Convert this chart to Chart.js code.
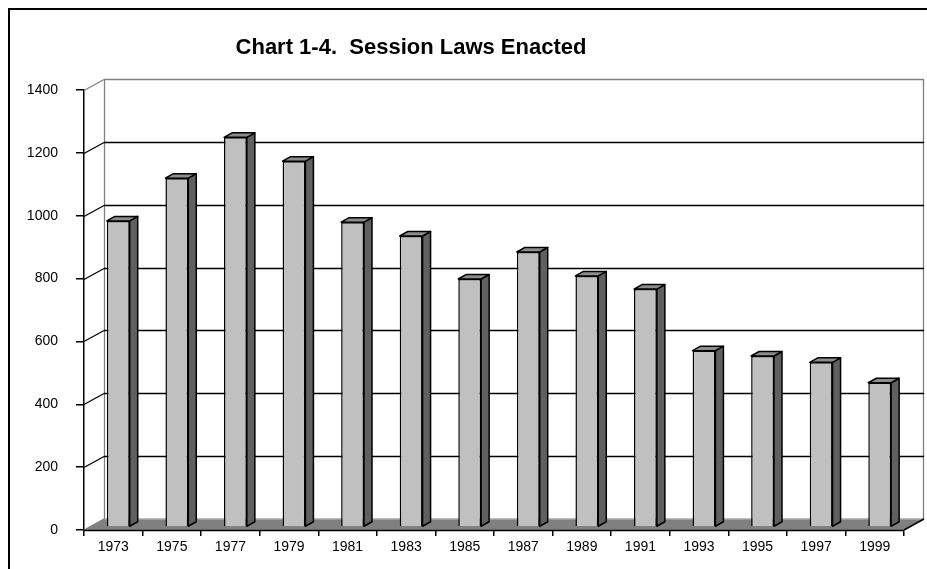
<!DOCTYPE html>
<html>
<head>
<meta charset="utf-8">
<title>Chart 1-4. Session Laws Enacted</title>
<script src="https://cdn.jsdelivr.net/npm/chart.js@4.4.1/dist/chart.umd.min.js"></script>
<style>
  html, body { margin: 0; padding: 0; background: #fff; }
  #wrap { width: 927px; height: 569px; position: relative; }
</style>
</head>
<body>
<div id="wrap"><canvas id="lawsChart"></canvas></div>
<script>
/* ── Data ── */
const years = ['1973', '1975', '1977', '1979', '1981', '1983', '1985',
               '1987', '1989', '1991', '1993', '1995', '1997', '1999'];
const lawsEnacted = [974, 1110, 1240, 1164, 970, 926, 789,
                     875, 799, 757, 561, 544, 524, 459];
const yTicks = [0, 200, 400, 600, 800, 1000, 1200, 1400];

/* ── Fake 3-D geometry (Excel style) ── */
const WALL_DX = 20, WALL_DY = -11;   // back wall offset from front axes
const BAR_DX = 5, BAR_DY = -3;       // bar front plane offset
const DEPTH_DX = 8, DEPTH_DY = -4.5; // bar depth

const FONT = "'Liberation Sans', Arial, sans-serif";

function line(ctx, x1, y1, x2, y2, color) {
  ctx.beginPath();
  ctx.moveTo(x1, y1);
  ctx.lineTo(x2, y2);
  ctx.strokeStyle = color;
  ctx.stroke();
}

function poly(ctx, pts, fill) {
  ctx.beginPath();
  ctx.moveTo(pts[0][0], pts[0][1]);
  for (let i = 1; i < pts.length; i++) ctx.lineTo(pts[i][0], pts[i][1]);
  ctx.closePath();
  ctx.fillStyle = fill;
  ctx.fill();
  ctx.strokeStyle = '#000';
  ctx.stroke();
}

const excel3d = {
  id: 'excel3d',
  beforeDatasetsDraw(chart) {
    const { ctx, chartArea: a, scales: { y } } = chart;
    const y0 = y.getPixelForValue(0);
    const top = y.getPixelForValue(yTicks[yTicks.length - 1]);
    ctx.save();
    ctx.lineWidth = 1.3;

    // floor
    ctx.beginPath();
    ctx.moveTo(a.left, y0);
    ctx.lineTo(a.right, y0);
    ctx.lineTo(a.right + WALL_DX, y0 + WALL_DY);
    ctx.lineTo(a.left + WALL_DX, y0 + WALL_DY);
    ctx.closePath();
    ctx.fillStyle = '#808080';
    ctx.fill();
    line(ctx, a.left + WALL_DX, y0 + WALL_DY, a.right + WALL_DX, y0 + WALL_DY, '#a8a8a8');
    line(ctx, a.left, y0, a.left + WALL_DX, y0 + WALL_DY, '#808080');

    // wall edges
    line(ctx, a.left + WALL_DX + 0.5, top + WALL_DY, a.left + WALL_DX + 0.5, y0 + WALL_DY, '#808080');
    line(ctx, a.right + WALL_DX - 0.5, top + WALL_DY, a.right + WALL_DX - 0.5, y0 + WALL_DY, '#808080');

    // gridlines on side and back walls
    yTicks.forEach(v => {
      if (v === 0) return;
      const py = Math.round(y.getPixelForValue(v)) + 0.5;
      const c = v === yTicks[yTicks.length - 1] ? '#808080' : '#000';
      line(ctx, a.left, py, a.left + WALL_DX, py + WALL_DY, c);
      line(ctx, a.left + WALL_DX, py + WALL_DY, a.right + WALL_DX, py + WALL_DY, c);
    });

    // front and right edges of floor
    ctx.lineWidth = 1.5;
    line(ctx, a.left, y0 + 0.5, a.right, y0 + 0.5, '#000');
    line(ctx, a.right, y0, a.right + WALL_DX, y0 + WALL_DY, '#000');
    ctx.restore();

    ctx.save();
    ctx.translate(BAR_DX, BAR_DY);
  },
  afterDatasetsDraw(chart) {
    const { ctx } = chart;
    ctx.lineWidth = 1.5;
    ctx.lineJoin = 'round';
    chart.getDatasetMeta(0).data.forEach(bar => {
      const { x, y, base, width } = bar.getProps(['x', 'y', 'base', 'width'], true);
      const l = x - width / 2, r = x + width / 2;
      // side face
      poly(ctx, [[r, y], [r + DEPTH_DX, y + DEPTH_DY],
                 [r + DEPTH_DX, base + DEPTH_DY], [r, base]], '#606060');
      // top face
      poly(ctx, [[l, y], [l + DEPTH_DX, y + DEPTH_DY],
                 [r + DEPTH_DX, y + DEPTH_DY], [r, y]], '#8c8c8c');
    });
    ctx.restore();
  },
  afterDraw(chart) {
    const { ctx, height, width } = chart;
    ctx.save();
    // outer frame
    ctx.lineWidth = 2;
    ctx.strokeStyle = '#000';
    ctx.beginPath();
    ctx.moveTo(9, height);
    ctx.lineTo(9, 9);
    ctx.lineTo(width, 9);
    ctx.stroke();
    // title
    ctx.fillStyle = '#000';
    ctx.font = 'bold 22px ' + FONT;
    ctx.textAlign = 'center';
    ctx.textBaseline = 'alphabetic';
    ctx.fillText('Chart 1-4.  Session Laws Enacted', 411, 54);
    ctx.restore();
  }
};

new Chart(document.getElementById('lawsChart'), {
  type: 'bar',
  data: {
    labels: years,
    datasets: [{
      data: lawsEnacted,
      backgroundColor: '#c0c0c0',
      borderColor: '#000',
      borderWidth: 1.5,
      barPercentage: 0.39,
      categoryPercentage: 1,
      clip: false
    }]
  },
  options: {
    responsive: true,
    maintainAspectRatio: false,
    animation: false,
    layout: { padding: { top: 90, right: 23, left: 0, bottom: 0 } },
    plugins: {
      legend: { display: false },
      tooltip: { enabled: false }
    },
    scales: {
      x: {
        offset: true,
        grid: { offset: true, drawOnChartArea: false, color: '#000', tickLength: 6, lineWidth: 1.5 },
        border: { color: '#000', width: 1.5 },
        ticks: {
          color: '#000', padding: 3, maxRotation: 0, autoSkip: false,
          font: { size: 14, family: FONT }
        },
        afterFit: s => { s.height = 39; }
      },
      y: {
        min: 0,
        max: 1400,
        grid: { drawOnChartArea: false, color: '#000', tickLength: 8, lineWidth: 1.5 },
        border: { color: '#000', width: 1.5 },
        ticks: {
          stepSize: 200, color: '#000', padding: 18,
          font: { size: 14, family: FONT },
          callback: v => String(v)
        },
        afterFit: s => { s.width = 84; }
      }
    }
  },
  plugins: [excel3d]
});
</script>
</body>
</html>
